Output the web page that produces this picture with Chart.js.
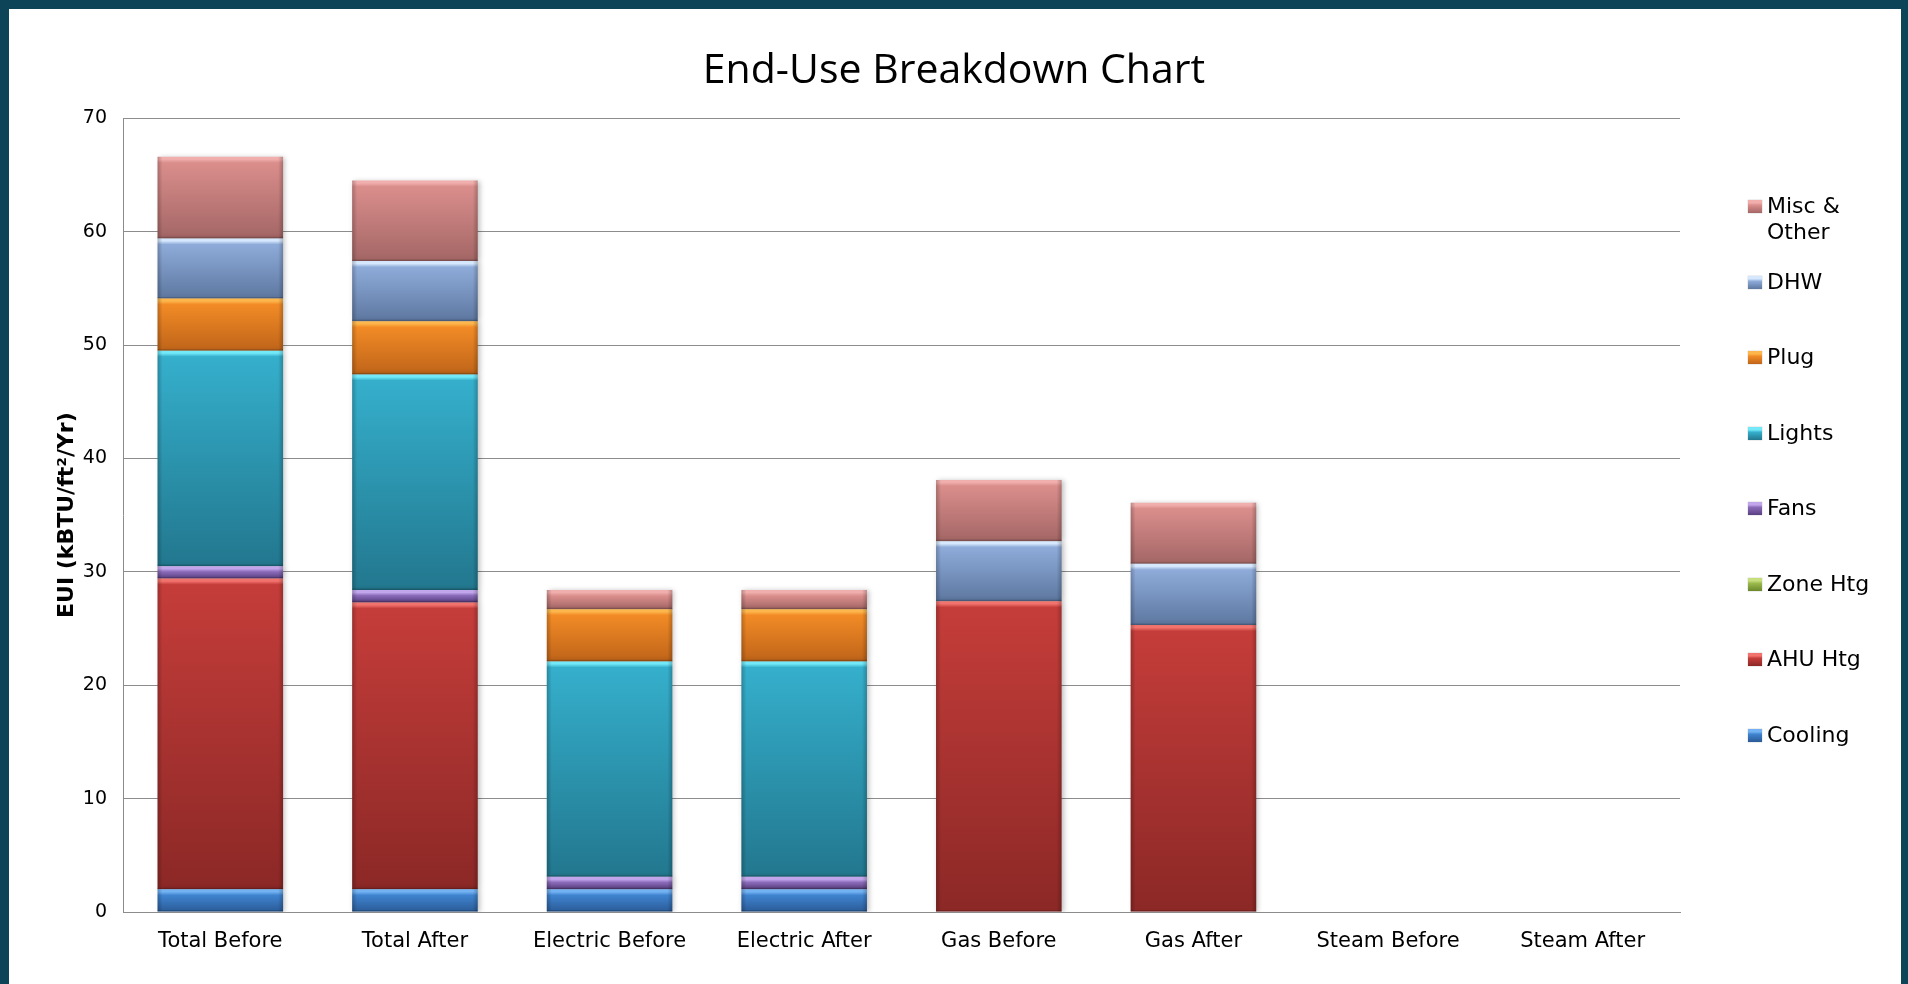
<!DOCTYPE html>
<html>
<head>
<meta charset="utf-8">
<title>End-Use Breakdown Chart</title>
<script src="https://cdn.jsdelivr.net/npm/chart.js@4.4.1/dist/chart.umd.min.js"></script>
<style>
html,body{margin:0;padding:0;background:#fff;overflow:hidden;}
#wrap{position:relative;width:1908px;height:984px;overflow:hidden;background:#fff;}
#frame{position:absolute;left:0;top:0;width:1908px;height:1010px;box-sizing:border-box;border-top:9px solid #0e4457;border-left:9px solid #0e4457;border-right:7px solid #0e4457;pointer-events:none;}
#c{position:absolute;left:0;top:0;}
#legend{position:absolute;left:1748px;top:193px;font-family:"DejaVu Sans",Verdana,sans-serif;font-size:22px;color:#000;}
.item{height:75.5px;display:flex;align-items:flex-start;}
.sw{width:14px;height:13px;margin-top:7px;margin-right:5px;flex:none;box-shadow:0 0 1px rgba(0,0,0,0.4);}
.lbl{line-height:26px;}
</style>
</head>
<body>
<div id="wrap">
  <canvas id="c" width="1908" height="984"></canvas>
  <div id="legend"></div>
  <div id="frame"></div>
</div>
<script>
// ---- data ----
const categories = ['Total Before', 'Total After', 'Electric Before', 'Electric After', 'Gas Before', 'Gas After', 'Steam Before', 'Steam After'];
const cooling = [2.0, 2.0, 2.0, 2.0, 0, 0, 0, 0];
const ahuHtg  = [27.4, 25.3, 0, 0, 27.4, 25.3, 0, 0];
const zoneHtg = [0, 0, 0, 0, 0, 0, 0, 0];
const fans    = [1.1, 1.1, 1.1, 1.1, 0, 0, 0, 0];
const lights  = [19.0, 19.0, 19.0, 19.0, 0, 0, 0, 0];
const plug    = [4.6, 4.7, 4.6, 4.6, 0, 0, 0, 0];
const dhw     = [5.3, 5.3, 0, 0, 5.3, 5.4, 0, 0];
const misc    = [7.2, 7.1, 1.7, 1.7, 5.4, 5.4, 0, 0];
const yTicks  = [0, 10, 20, 30, 40, 50, 60, 70];
const seriesNames = ['Cooling', 'AHU Htg', 'Zone Htg', 'Fans', 'Lights', 'Plug', 'DHW', 'Misc & Other'];
const seriesData = [cooling, ahuHtg, zoneHtg, fans, lights, plug, dhw, misc];
const legendLines = { 'Misc & Other': ['Misc &', 'Other'] };

// ---- styles ----
const palette = {
  'Cooling':      { hi: '#72b2f2', light: '#3f83cf', dark: '#2a5a96' },
  'AHU Htg':      { hi: '#f2736e', light: '#c53d3a', dark: '#8b2826' },
  'Zone Htg':     { hi: '#c6de7c', light: '#9bbb4e', dark: '#6a882b' },
  'Fans':         { hi: '#c2a6ec', light: '#8a6bba', dark: '#5a3e80' },
  'Lights':       { hi: '#72e8f9', light: '#35afcc', dark: '#22778e' },
  'Plug':         { hi: '#fdb64c', light: '#f28b26', dark: '#bf6419' },
  'DHW':          { hi: '#d6e8fd', light: '#8eabd9', dark: '#5d77a0' },
  'Misc & Other': { hi: '#f0aeac', light: '#da8e8c', dark: '#a36665' }
};

function makeFill(dsIndex) {
  const pal = palette[seriesNames[dsIndex]];
  return function (ctx) {
    const chart = ctx.chart;
    if (ctx.type !== 'data' || !chart.chartArea || !chart.scales.y) return pal.light;
    const i = ctx.dataIndex;
    let start = 0;
    for (let k = 0; k < dsIndex; k++) start += seriesData[k][i];
    const end = start + seriesData[dsIndex][i];
    const yS = chart.scales.y.getPixelForValue(start);
    const yE = chart.scales.y.getPixelForValue(end);
    const top = Math.min(yS, yE), bot = Math.max(yS, yE);
    const h = bot - top;
    if (h < 1) return pal.light;
    const g = chart.ctx.createLinearGradient(0, top, 0, bot);
    const f1 = Math.min(0.3, 2.5 / h);
    const f2 = Math.min(0.45, 6 / h);
    g.addColorStop(0, pal.hi);
    g.addColorStop(f1, pal.hi);
    g.addColorStop(f2, pal.light);
    g.addColorStop(1, pal.dark);
    return g;
  };
}

const datasets = seriesNames.map((name, k) => ({
  label: name,
  data: seriesData[k],
  backgroundColor: makeFill(k),
  borderWidth: 0,
  stack: 's'
}));

// bevel / shadow effect plugin
const bevelPlugin = {
  id: 'bevel',
  beforeDatasetsDraw(chart) {
    const c = chart.ctx;
    c.save();
    c.shadowColor = 'rgba(0,0,0,0.25)';
    c.shadowBlur = 5;
    c.shadowOffsetX = 2;
    c.shadowOffsetY = 0;
  },
  afterDatasetsDraw(chart) {
    const c = chart.ctx;
    c.restore();
    c.save();
    chart.data.datasets.forEach((ds, di) => {
      const meta = chart.getDatasetMeta(di);
      meta.data.forEach(el => {
        const p = el.getProps(['x', 'y', 'base', 'width'], true);
        const left = p.x - p.width / 2, right = p.x + p.width / 2;
        const top = Math.min(p.y, p.base), bot = Math.max(p.y, p.base);
        const h = bot - top;
        if (h < 0.5) return;
        let g = c.createLinearGradient(left, 0, left + 5, 0);
        g.addColorStop(0, 'rgba(0,0,0,0.22)');
        g.addColorStop(1, 'rgba(0,0,0,0)');
        c.fillStyle = g;
        c.fillRect(left, top, 5, h);
        g = c.createLinearGradient(right - 5, 0, right, 0);
        g.addColorStop(0, 'rgba(0,0,0,0)');
        g.addColorStop(1, 'rgba(0,0,0,0.22)');
        c.fillStyle = g;
        c.fillRect(right - 5, top, 5, h);
        c.fillStyle = 'rgba(0,0,0,0.15)';
        c.fillRect(left, bot - 1.5, p.width, 1.5);
      });
    });
    c.restore();
  }
};

const chart = new Chart(document.getElementById('c'), {
  type: 'bar',
  data: { labels: categories, datasets: datasets },
  plugins: [bevelPlugin],
  options: {
    responsive: false,
    animation: false,
    devicePixelRatio: 1,
    layout: { padding: { left: 0, right: 0, top: 0, bottom: 0 } },
    datasets: { bar: { categoryPercentage: 1.0, barPercentage: 0.645 } },
    plugins: {
      legend: { display: false },
      tooltip: { enabled: false },
      title: {
        display: true,
        text: 'End-Use Breakdown Chart',
        color: '#000',
        font: { family: '"Open Sans", "Noto Sans", sans-serif', size: 41, weight: 'normal' },
        padding: { top: 47, bottom: 22 }
      }
    },
    scales: {
      x: {
        stacked: true,
        grid: { display: false, drawTicks: false },
        border: { display: true, color: '#8c8c8c', width: 1 },
        ticks: { color: '#000', font: { family: '"DejaVu Sans", Verdana, sans-serif', size: 21 }, padding: 17, maxRotation: 0, autoSkip: false },
        afterFit(scale) { scale.height = 72; }
      },
      y: {
        stacked: true,
        min: 0,
        max: 70,
        afterBuildTicks(scale) { scale.ticks = yTicks.map(v => ({ value: v })); },
        grid: { color: '#8c8c8c', lineWidth: 1, drawTicks: false },
        border: { display: true, color: '#8c8c8c', width: 1 },
        ticks: { color: '#000', font: { family: '"DejaVu Sans", Verdana, sans-serif', size: 19 }, padding: 16 },
        title: {
          display: true,
          text: 'EUI (kBTU/ft\u00B2/Yr)',
          color: '#000',
          font: { family: '"DejaVu Sans", Verdana, sans-serif', size: 22, weight: 'bold' },
          padding: { top: 54, bottom: 0 }
        },
        afterFit(scale) { scale.width = 123; }
      },
      legendSpace: {
        type: 'linear',
        position: 'right',
        display: true,
        min: 0,
        max: 70,
        grid: { display: false, drawTicks: false },
        border: { display: false },
        ticks: { display: false },
        afterFit(scale) { scale.width = 228; }
      }
    }
  }
});

// HTML legend (reverse order as in the reference)
const legendEl = document.getElementById('legend');
for (let k = seriesNames.length - 1; k >= 0; k--) {
  const name = seriesNames[k];
  const pal = palette[name];
  const item = document.createElement('div');
  item.className = 'item';
  const sw = document.createElement('div');
  sw.className = 'sw';
  sw.style.background = 'linear-gradient(to bottom,' + pal.hi + ' 0%,' + pal.hi + ' 22%,' + pal.light + ' 40%,' + pal.dark + ' 100%)';
  const lbl = document.createElement('div');
  lbl.className = 'lbl';
  const lines = legendLines[name] || [name];
  lines.forEach((ln, j) => {
    if (j) lbl.appendChild(document.createElement('br'));
    lbl.appendChild(document.createTextNode(ln));
  });
  item.appendChild(sw);
  item.appendChild(lbl);
  legendEl.appendChild(item);
}
</script>
</body>
</html>
